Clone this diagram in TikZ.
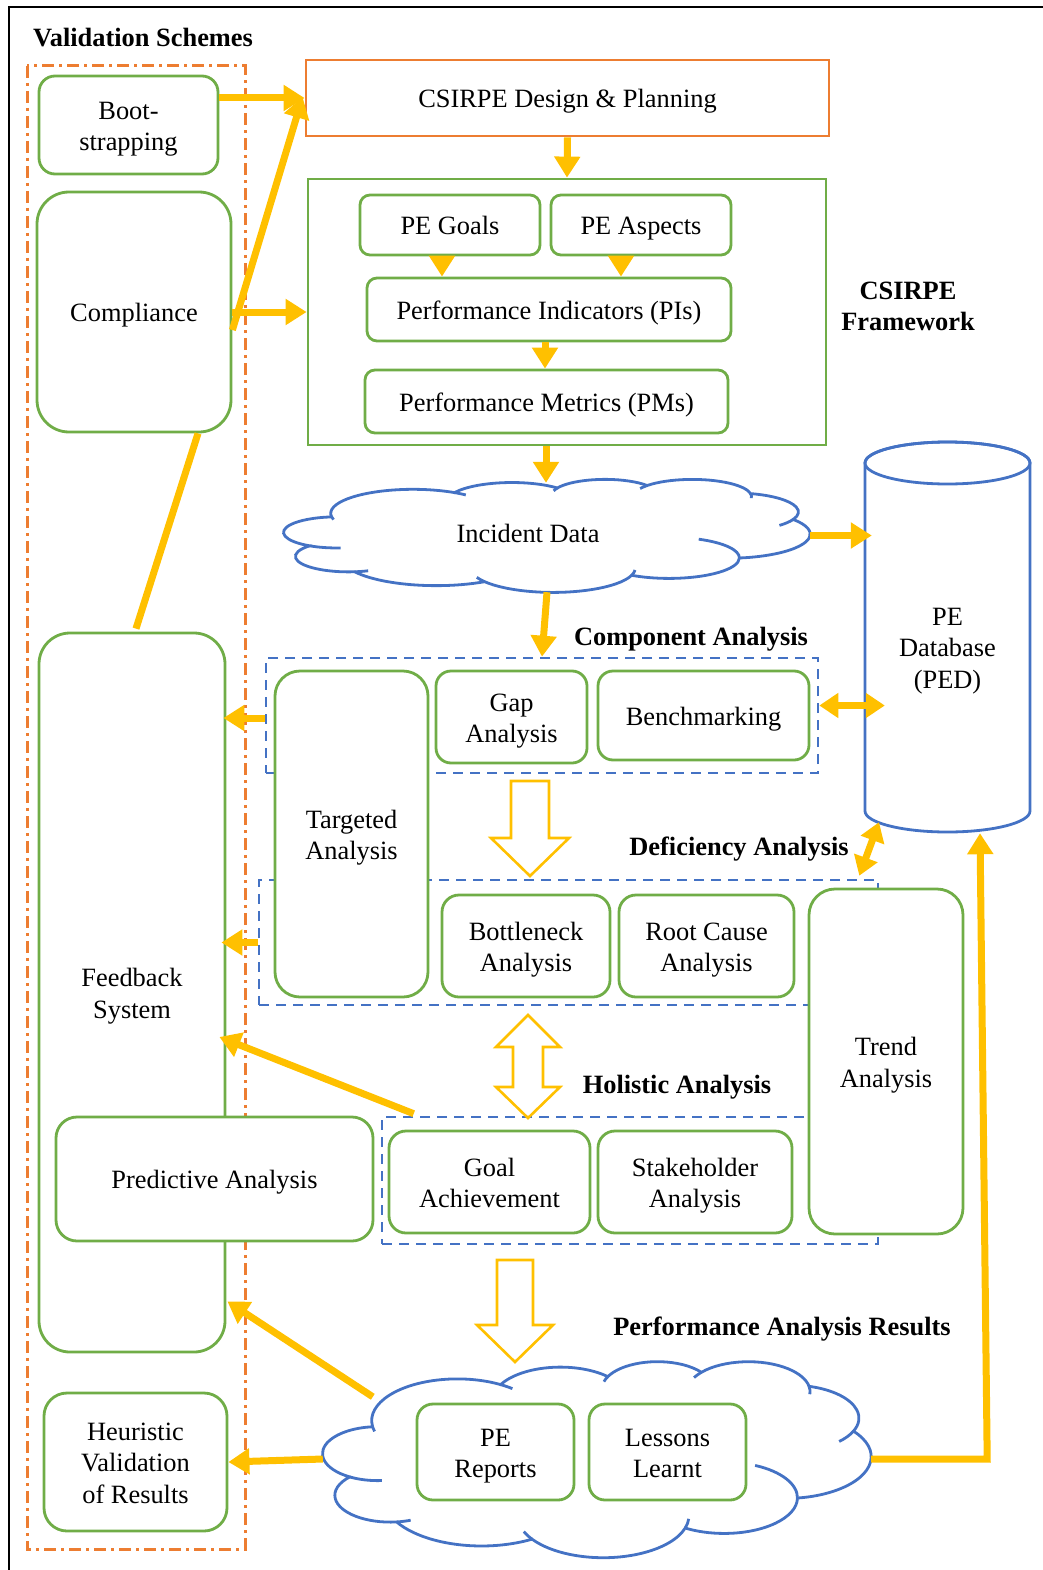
\documentclass[tikz,border=0pt]{standalone}
\usepackage{fontspec}
\setmainfont{Liberation Serif}
\usetikzlibrary{arrows.meta,calc}
\definecolor{boxgreen}{HTML}{70AD47}
\definecolor{boxblue}{HTML}{4472C4}
\definecolor{boxorange}{HTML}{ED7D31}
\definecolor{flowgold}{HTML}{FFC000}

% uniform top and bottom struts so that every text block sits at the same height
\newcommand\boxlines[1]{\rule{0pt}{26pt}#1\rule[-6.4pt]{0pt}{6.4pt}}

\tikzset{
  txt/.style={font=\fontsize{26.4}{31.5}\selectfont, align=center, inner sep=0pt},
  heading/.style={txt, font=\fontsize{26.4}{31.5}\selectfont\bfseries},
  gbox/.style={txt, draw=boxgreen, line width=2.8pt, fill=white},
  obox/.style={txt, draw=boxorange, line width=2.8pt, fill=white},
  group/.style={draw=boxblue, line width=2.6pt, dash pattern=on 10pt off 7pt, inner sep=0pt},
  anchorbox/.style={inner sep=0pt},
  flow/.style={draw=flowgold, line width=7pt, -{Triangle[length=21pt,width=25pt]}},
  flowboth/.style={draw=flowgold, line width=7pt, {Triangle[length=19pt,width=24pt]}-{Triangle[length=19pt,width=24pt]}},
  flowlink/.style={draw=flowgold, line width=7pt},
  blockarrow/.style={draw=flowgold, line width=2.6pt, fill=white, line join=miter},
  cloudline/.style={draw=boxblue, line width=2.8pt},
}

% Cloud outline laid out on a 432 x 432 grid and fitted into the box
% with top-left corner (#1,#2), width #3 and height #4.
\newcommand\cloudoutline[4]{%
  \begin{scope}[shift={(#1,#2)}, xscale=#3/432, yscale=#4/432]
    \draw[cloudline, fill=white] (39.00,143.70)
      arc[start angle=-187.745, delta angle=128.115, x radius=67.53, y radius=91.90]
      arc[start angle=-152.02, delta angle=106.564, x radius=53.33, y radius=72.67]
      arc[start angle=-153.49, delta angle=116.17, x radius=43.65, y radius=59.45]
      arc[start angle=-139.70, delta angle=129.489, x radius=48.57, y radius=65.95]
      arc[start angle=-74.77, delta angle=97.98, x radius=53.33, y radius=72.73]
      arc[start angle=-37.50, delta angle=119.36, x radius=67.75, y radius=92.20]
      arc[start angle=0.46, delta angle=121.51, x radius=57.85, y radius=78.67]
      arc[start angle=16.845, delta angle=129.395, x radius=67.52, y radius=92.15]
      arc[start angle=58.98, delta angle=91.22, x radius=77.20, y radius=105.43]
      arc[start angle=-276.69, delta angle=139.79, x radius=43.60, y radius=59.18]
      arc[start angle=-239.64, delta angle=143.75, x radius=43.45, y radius=59.45]
      -- cycle;
    % inner hooks between the puffs
    \draw[cloudline] (43.05,204.19) ++(85.5:43.45 and 59.45)
      arc[start angle=85.5, end angle=120.36, x radius=43.45, y radius=59.45];
    \draw[cloudline] (52.93,295.92) ++(68.22:43.60 and 59.18)
      arc[start angle=68.22, end angle=83.31, x radius=43.60, y radius=59.18];
    \draw[cloudline] (220.93,341.44) ++(146.24:67.52 and 92.15)
      arc[start angle=146.24, end angle=158, x radius=67.52, y radius=92.15];
    \draw[cloudline] (220.93,341.44) ++(4:67.52 and 92.15)
      arc[start angle=4, end angle=16.85, x radius=67.52, y radius=92.15];
    \draw[cloudline] (316.18,301.40) ++(-65:57.85 and 78.67)
      arc[start angle=-65, end angle=0.46, x radius=57.85, y radius=78.67];
    \draw[cloudline] (369.18,125.97) ++(23.21:53.33 and 72.73)
      arc[start angle=23.21, end angle=45, x radius=53.33, y radius=72.73];
    \draw[cloudline] (335.39,67.48) ++(-10.21:48.57 and 65.95)
      arc[start angle=-10.21, end angle=5, x radius=48.57, y radius=65.95];
    \draw[cloudline] (335.39,67.48) ++(-152:48.57 and 65.95)
      arc[start angle=-152, end angle=-139.7, x radius=48.57, y radius=65.95];
    \draw[cloudline] (263.63,60.86) ++(-165:43.65 and 59.45)
      arc[start angle=-165, end angle=-153.49, x radius=43.65, y radius=59.45];
    \draw[cloudline] (105.91,131.31) ++(-59.63:67.53 and 91.90)
      arc[start angle=-59.63, end angle=-50, x radius=67.53, y radius=91.90];
    \draw[cloudline] (105.91,131.31) ++(-195:67.53 and 91.90)
      arc[start angle=-195, end angle=-187.745, x radius=67.53, y radius=91.90];
  \end{scope}}

\begin{document}
\begin{tikzpicture}[x=1pt, y=-1pt]
\useasboundingbox (0,0) rectangle (1043,1570);

% outer frame
\draw[line width=2.5pt] (9,1570) -- (9,7) -- (1043,7);

% validation schemes column
\node[heading, anchor=west] (valtitle) at (33,37) {\boxlines{Validation Schemes}};
\draw[boxorange, line width=3pt, dash pattern=on 12pt off 5pt on 3pt off 5pt] (27,66) rectangle (245,1549);

\node[gbox, rounded corners=16pt, minimum width=179pt, minimum height=98pt] (boot) at (128.5,125) {\boxlines{Boot-\\strapping}};
\node[gbox, rounded corners=32pt, minimum width=194pt, minimum height=240pt] (compliance) at (134,312) {\boxlines{Compliance}};
\node[gbox, rounded corners=31pt, minimum width=186pt, minimum height=719pt] (feedback) at (132,992.5) {\boxlines{Feedback\\System}};
\node[gbox, rounded corners=21pt, minimum width=317pt, minimum height=124pt] (predictive) at (214.5,1179) {\boxlines{Predictive Analysis}};
\node[gbox, rounded corners=23pt, minimum width=183pt, minimum height=138pt] (heuristic) at (135.5,1462) {\boxlines{Heuristic\\Validation\\of Results}};

% design and framework
\node[obox, minimum width=523pt, minimum height=76pt] (design) at (567.5,98) {\boxlines{CSIRPE Design \& Planning}};
\node[gbox, minimum width=518pt, minimum height=266pt] (framework) at (567,312) {};
\node[gbox, rounded corners=10pt, minimum width=180pt, minimum height=60pt] (goals) at (450,225) {\boxlines{PE Goals}};
\node[gbox, rounded corners=10pt, minimum width=180pt, minimum height=60pt] (aspects) at (641,225) {\boxlines{PE Aspects}};
\node[gbox, rounded corners=10pt, minimum width=364pt, minimum height=63pt] (pis) at (549,309.5) {\boxlines{Performance Indicators (PIs)}};
\node[gbox, rounded corners=10pt, minimum width=363pt, minimum height=63pt] (pms) at (546.5,401.5) {\boxlines{Performance Metrics (PMs)}};
\node[heading] (fwtitle) at (908,305) {\boxlines{CSIRPE\\Framework}};

% incident data cloud
\cloudoutline{284}{479}{526}{113}
\node[anchorbox, minimum width=526pt, minimum height=113pt] (incident) at (547,535.5) {};
\node[txt] (incidenttext) at (528,533) {\boxlines{Incident Data}};

% PE database cylinder
\draw[boxblue, line width=2.8pt, fill=white] (865,463) -- (865,811)
  arc[start angle=180, end angle=0, x radius=82.5, y radius=21] -- (1030,463)
  arc[start angle=0, end angle=-180, x radius=82.5, y radius=21];
\draw[boxblue, line width=2.8pt] (947.5,463) ellipse[x radius=82.5, y radius=21];
\node[anchorbox, minimum width=165pt, minimum height=388pt] (ped) at (947.5,636) {};
\node[txt] (pedtext) at (947.5,647) {\boxlines{PE\\Database\\(PED)}};

% analysis groups
\node[group, minimum width=552pt, minimum height=115pt] (compan) at (542,715.5) {};
\node[group, minimum width=619pt, minimum height=125pt] (defan) at (568.5,942.5) {};
\node[group, minimum width=496pt, minimum height=127pt] (holan) at (630,1180.5) {};

\node[gbox, rounded corners=25pt, minimum width=153pt, minimum height=326pt] (targeted) at (351.5,834) {\boxlines{Targeted\\Analysis}};
\node[gbox, rounded corners=15pt, minimum width=151pt, minimum height=92pt] (gap) at (511.5,717) {\boxlines{Gap\\Analysis}};
\node[gbox, rounded corners=15pt, minimum width=211pt, minimum height=89pt] (bench) at (703.5,715.5) {\boxlines{Benchmarking}};
\node[gbox, rounded corners=17pt, minimum width=168pt, minimum height=102pt] (bottleneck) at (526,946) {\boxlines{Bottleneck\\Analysis}};
\node[gbox, rounded corners=17pt, minimum width=175pt, minimum height=102pt] (rootcause) at (706.5,946) {\boxlines{Root Cause\\Analysis}};
\node[gbox, rounded corners=26pt, minimum width=154pt, minimum height=345pt] (trend) at (886,1061.5) {\boxlines{Trend\\Analysis}};
\node[gbox, rounded corners=17pt, minimum width=201pt, minimum height=102pt] (goal) at (489.5,1182) {\boxlines{Goal\\Achievement}};
\node[gbox, rounded corners=17pt, minimum width=194pt, minimum height=102pt] (stake) at (695,1182) {\boxlines{Stakeholder\\Analysis}};

\node[heading] (comptitle) at (691,636) {\boxlines{Component Analysis}};
\node[heading] (deftitle) at (739,846) {\boxlines{Deficiency Analysis}};
\node[heading] (holtitle) at (677,1084) {\boxlines{Holistic Analysis}};
\node[heading] (restitle) at (782,1326) {\boxlines{Performance Analysis Results}};

% block arrows between the analysis stages
\draw[blockarrow] (511,781) -- (549,781) -- (549,838) -- (569,838) -- (530,876)
  -- (491,838) -- (511,838) -- cycle;
\draw[blockarrow] (528,1015) -- (560,1047) -- (543,1047) -- (543,1087) -- (560,1087)
  -- (528,1118) -- (496,1087) -- (513,1087) -- (513,1047) -- (496,1047) -- cycle;
\draw[blockarrow] (497,1260) -- (533,1260) -- (533,1325) -- (553,1325) -- (515,1362)
  -- (477,1325) -- (497,1325) -- cycle;

% results cloud
\cloudoutline{323}{1361}{548}{196}
\node[anchorbox, minimum width=548pt, minimum height=196pt] (results) at (597,1459) {};
\node[gbox, rounded corners=16pt, minimum width=157pt, minimum height=96pt] (pereports) at (495.5,1452) {\boxlines{PE\\Reports}};
\node[gbox, rounded corners=16pt, minimum width=157pt, minimum height=96pt] (lessons) at (667.5,1452) {\boxlines{Lessons\\Learnt}};

% connectors
\draw[flow] (boot.east |- design.west) -- (design.west);
\draw[flow] ($(compliance.east)+(0,18)$) -- ($(design.west)+(-2,-1)$);
\draw[flow] (compliance.east) -- (framework.west);
\draw[flow] (design.south) -- (framework.north);
\draw[flow] ($(goals.south)+(-8,0)$) -- ($(goals.south |- pis.north)+(-8,0)$);
\draw[flow] ($(aspects.south)+(-20,0)$) -- ($(aspects.south |- pis.north)+(-20,0)$);
\draw[flow] ($(pis.south)+(-4,0)$) -- ($(pis.south |- pms.north)+(-4,0)$);
\draw[flow] ($(framework.south)+(-21,0)$) -- ($(framework.south |- incident.north)+(-21,4)$);
\draw[flow] (incident.east) -- ($(incident.east -| ped.west)+(7,0)$);
\draw[flow] (incident.south) -- (compan.north);
\draw[flowboth] ($(compan.east)+(0,-10)$) -- ($(compan.east -| ped.west)+(20,-10)$);
\draw[flowboth] ($(defan.north east)+(-20,-3)$) -- ($(ped.south)+(-68.5,-8)$);
\draw[flow] ($(compan.west)+(0,2.5)$) -- ($(compan.west -| feedback.east)+(-3,2.5)$);
\draw[flow] (defan.west) -- ($(defan.west -| feedback.east)+(-5,0)$);
\draw[flow] ($(holan.north west)+(33,-2)$) -- ($(feedback.east)+(-7,44.5)$);
\draw[flow] ($(results.north west)+(50,36)$) -- ($(feedback.south east)+(1,-52)$);
\draw[flow] (results.west) -- (heuristic.east);
\draw[flow] (results.east) -- ++(116,0) -- ($(ped.south)+(32.5,3)$);
\draw[flowlink] ($(feedback.north)+(4,-3)$) -- ($(compliance.south)+(64,0)$);

\end{tikzpicture}
\end{document}
